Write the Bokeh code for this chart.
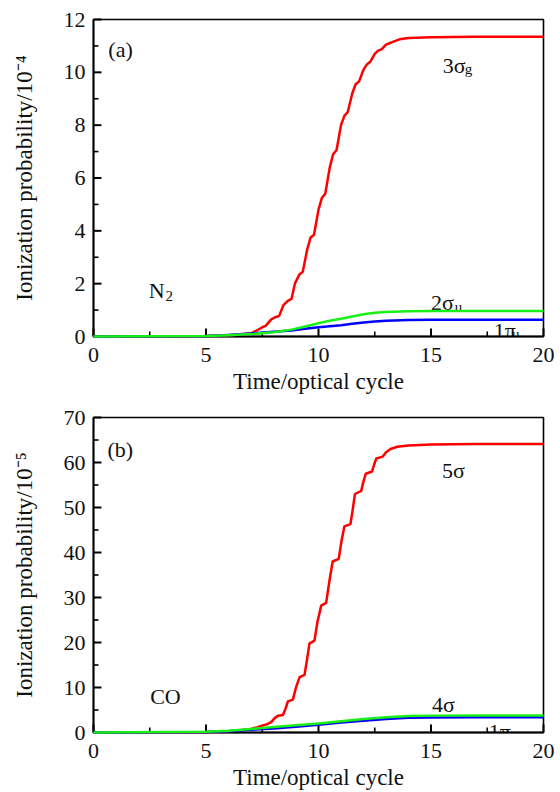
from bokeh.plotting import figure
from bokeh.layouts import column
from bokeh.models import Range1d, FixedTicker
from bokeh.core.properties import value
from bokeh.embed import file_html
from bokeh.resources import INLINE

# ---------------- data ----------------
# Panel (a): N2, ionization probability / 1e-4
t_red_a = [0, 5, 6, 6.5, 7.0, 7.2, 7.5, 7.65, 7.9, 8.05, 8.25, 8.45, 8.65, 8.8, 8.95,
           9.15, 9.3, 9.5, 9.65, 9.8, 10.0, 10.15, 10.3, 10.5, 10.65, 10.8, 11.0, 11.15,
           11.3, 11.5, 11.65, 11.8, 12.0, 12.15, 12.3, 12.5, 12.65, 12.8, 13.0, 13.15,
           13.3, 13.6, 14, 15, 17, 20]
p_red_a = [0, 0.02, 0.05, 0.08, 0.12, 0.2, 0.35, 0.4, 0.65, 0.72, 0.78, 1.2, 1.36, 1.42, 2.0,
           2.35, 2.45, 3.3, 3.75, 3.85, 4.8, 5.25, 5.4, 6.4, 6.9, 7.05, 8.0, 8.35,
           8.5, 9.2, 9.55, 9.65, 10.1, 10.3, 10.4, 10.7, 10.82, 10.87, 11.05, 11.1,
           11.15, 11.25, 11.3, 11.33, 11.35, 11.35]
t_green_a = [0, 5, 6, 7, 8, 8.8, 9.5, 10, 10.5, 11, 11.5, 12, 12.5, 13, 14, 15, 20]
p_green_a = [0, 0.02, 0.05, 0.09, 0.16, 0.26, 0.4, 0.5, 0.6, 0.67, 0.76, 0.84, 0.9, 0.93, 0.96, 0.97, 0.97]
t_blue_a = [0, 5, 6, 7, 8, 8.8, 9.5, 10, 10.5, 11, 11.5, 12, 12.5, 13, 14, 15, 20]
p_blue_a = [0, 0.02, 0.06, 0.11, 0.18, 0.23, 0.3, 0.35, 0.39, 0.43, 0.48, 0.53, 0.57, 0.6, 0.62, 0.63, 0.63]

# Panel (b): CO, ionization probability / 1e-5
t_red_b = [0, 5, 6, 6.5, 7.0, 7.3, 7.55, 7.7, 7.9, 8.05, 8.2, 8.42, 8.55, 8.64, 8.86,
           9.0, 9.16, 9.38, 9.5, 9.6, 9.82, 9.95, 10.12, 10.34, 10.48, 10.63, 10.9, 11.02,
           11.15, 11.42, 11.52, 11.62, 11.9, 12.0, 12.1, 12.38, 12.47, 12.57, 12.85, 13.0,
           13.2, 13.5, 14, 15, 17, 20]
p_red_b = [0, 0.1, 0.3, 0.5, 0.8, 1.2, 1.6, 1.8, 2.3, 3.2, 3.7, 3.9, 5.5, 6.9, 7.3,
           10.0, 12.3, 12.8, 16.5, 19.8, 20.4, 24.5, 28.2, 28.8, 33.5, 38.0, 38.6, 42.5,
           45.8, 46.3, 49.5, 53.0, 53.7, 55.8, 57.5, 58.0, 59.5, 60.9, 61.3, 62.3,
           63.0, 63.5, 63.8, 64.0, 64.1, 64.1]
t_green_b = [0, 5, 6, 7, 8, 9, 10, 11, 12, 13, 14, 15, 17, 20]
p_green_b = [0, 0.15, 0.4, 0.8, 1.2, 1.6, 2.0, 2.5, 3.0, 3.4, 3.65, 3.75, 3.8, 3.8]
t_blue_b = [0, 5, 6, 7, 8, 9, 10, 11, 12, 13, 14, 15, 17, 20]
p_blue_b = [0, 0.1, 0.3, 0.6, 0.9, 1.3, 1.7, 2.2, 2.6, 3.0, 3.25, 3.35, 3.4, 3.4]

x_ticks = [0, 5, 10, 15, 20]
x_minor = [2.5, 7.5, 12.5, 17.5]
y_ticks_a = [0, 2, 4, 6, 8, 10, 12]
y_minor_a = [1, 3, 5, 7, 9, 11]
y_ticks_b = [0, 10, 20, 30, 40, 50, 60, 70]
y_minor_b = [5, 15, 25, 35, 45, 55, 65]

FONT = "Liberation Serif"
RED, GREEN, BLUE = "#ff0000", "#18f018", "#0000ff"
W, H = 560, 396
XMAX = 20
MAJ_PX, MIN_PX = 8, 5


def make_fig(ymax, yticks, yminor, ylabel, top, bottom, left, right):
    p = figure(width=W, height=H, output_backend="svg", toolbar_location=None,
               x_range=Range1d(0, XMAX), y_range=Range1d(0, ymax),
               min_border_top=top, min_border_bottom=bottom,
               min_border_left=left, min_border_right=right)
    p.xgrid.visible = False
    p.ygrid.visible = False
    p.outline_line_color = "black"
    p.outline_line_width = 1.6
    p.outline_line_alpha = 1.0
    p.xaxis.ticker = FixedTicker(ticks=x_ticks, minor_ticks=x_minor)
    p.yaxis.ticker = FixedTicker(ticks=yticks, minor_ticks=yminor)
    p.xaxis.axis_label = "Time/optical cycle"
    p.yaxis.axis_label = ylabel
    for ax in (p.xaxis[0], p.yaxis[0]):
        ax.axis_line_width = 1.8
        ax.axis_line_color = "black"
        ax.major_tick_line_color = None
        ax.minor_tick_line_color = None
        ax.major_tick_out = 0
        ax.minor_tick_out = 0
        ax.major_label_text_font = FONT
        ax.major_label_text_font_size = "22px"
        ax.major_label_text_color = "#111111"
        ax.axis_label_text_font = FONT
        ax.axis_label_text_font_size = "23px"
        ax.axis_label_text_font_style = "normal"
        ax.axis_label_text_color = "#111111"
    p.xaxis.major_label_standoff = 11
    p.xaxis.axis_label_standoff = 4
    p.yaxis.major_label_standoff = 8
    p.yaxis.axis_label_standoff = 24

    # inward tick marks, lengths converted from pixels to data units
    fw = W - left - right
    fh = H - top - bottom
    dy_maj, dy_min = ymax * MAJ_PX / fh, ymax * MIN_PX / fh
    dx_maj, dx_min = XMAX * MAJ_PX / fw, XMAX * MIN_PX / fw
    p.segment(x0=x_ticks, y0=[0] * len(x_ticks), x1=x_ticks, y1=[dy_maj] * len(x_ticks),
              line_color="black", line_width=2, level="overlay")
    p.segment(x0=x_minor, y0=[0] * len(x_minor), x1=x_minor, y1=[dy_min] * len(x_minor),
              line_color="black", line_width=1.6, level="overlay")
    p.segment(x0=[0] * len(yticks), y0=yticks, x1=[dx_maj] * len(yticks), y1=yticks,
              line_color="black", line_width=2, level="overlay")
    p.segment(x0=[0] * len(yminor), y0=yminor, x1=[dx_min] * len(yminor), y1=yminor,
              line_color="black", line_width=1.6, level="overlay")
    return p


def add_text(p, x, y, txt, size):
    p.text(x=[x], y=[y], text=[txt], text_font=value(FONT), text_font_size=size,
           text_color="#111111", text_align="left", text_baseline="alphabetic")


def add_curve(p, t, y, color):
    p.line(t, y, line_color=color, line_width=2.5, line_join="round", level="overlay")


# ---------------- panel (a) ----------------
pa = make_fig(12, y_ticks_a, y_minor_a, "Ionization probability/10\u207b\u2074", 19, 60, 91, 17)
add_curve(pa, t_red_a, p_red_a, RED)
add_curve(pa, t_blue_a, p_blue_a, BLUE)
add_curve(pa, t_green_a, p_green_a, GREEN)
add_text(pa, 0.66, 10.85, "(a)", "22px")
add_text(pa, 15.52, 10.27, "3\u03c3", "22px")
add_text(pa, 16.5, 10.11, "g", "15px")
add_text(pa, 2.45, 1.74, "N", "22px")
add_text(pa, 3.2, 1.55, "2", "15px")
add_text(pa, 15.0, 1.29, "2\u03c3", "22px")
add_text(pa, 16.05, 1.10, "u", "15px")
add_text(pa, 17.79, 0.23, "1\u03c0", "22px")
add_text(pa, 18.6, 0.11, "u", "15px")

# ---------------- panel (b) ----------------
pb = make_fig(70, y_ticks_b, y_minor_b, "Ionization probability/10\u207b\u2075", 21, 59, 93, 15)
add_curve(pb, t_red_b, p_red_b, RED)
add_curve(pb, t_blue_b, p_blue_b, BLUE)
add_curve(pb, t_green_b, p_green_b, GREEN)
add_text(pb, 0.62, 62.8, "(b)", "22px")
add_text(pb, 15.49, 58.2, "5\u03c3", "22px")
add_text(pb, 2.52, 7.96, "CO", "22px")
add_text(pb, 15.04, 6.19, "4\u03c3", "22px")
add_text(pb, 17.57, 0.22, "1\u03c0", "22px")

layout = column(pa, pb)
open("out.html", "w").write(file_html(layout, INLINE))
